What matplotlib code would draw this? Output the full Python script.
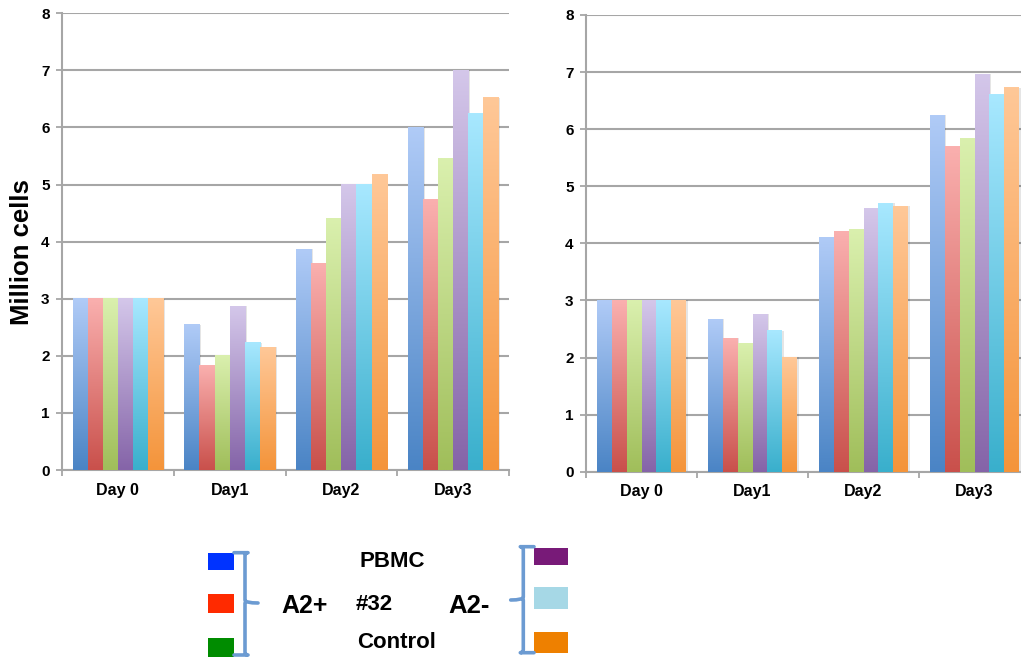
import numpy as np
import matplotlib
matplotlib.use("Agg")
import matplotlib.pyplot as plt
from matplotlib.colors import LinearSegmentedColormap
from matplotlib.path import Path
from matplotlib.patches import PathPatch, Rectangle

plt.rcParams['font.family'] = ['Liberation Sans', 'DejaVu Sans']
plt.rcParams['font.weight'] = 'bold'

# ---- data -------------------------------------------------------------
days = ["Day 0", "Day1", "Day2", "Day3"]

# A2+ panel (left): PBMC, #32, Control, then A2- PBMC, #32, Control
left_a2p_pbmc = [3.0, 2.54, 3.87, 6.0]
left_a2p_32 = [3.0, 1.83, 3.61, 4.73]
left_a2p_ctrl = [3.0, 2.0, 4.41, 5.45]
left_a2m_pbmc = [3.0, 2.87, 5.0, 7.0]
left_a2m_32 = [3.0, 2.23, 5.0, 6.25]
left_a2m_ctrl = [3.0, 2.15, 5.17, 6.52]

right_a2p_pbmc = [3.0, 2.67, 4.11, 6.24]
right_a2p_32 = [3.0, 2.34, 4.21, 5.70]
right_a2p_ctrl = [3.0, 2.25, 4.24, 5.84]
right_a2m_pbmc = [3.0, 2.76, 4.61, 6.96]
right_a2m_32 = [3.0, 2.47, 4.70, 6.61]
right_a2m_ctrl = [3.0, 2.01, 4.65, 6.73]

y_ticks = [0, 1, 2, 3, 4, 5, 6, 7, 8]

# gradient (top, bottom) colours for the six series
grad_colors = [
    ("#B0CBF7", "#4A84C5"),
    ("#FAB0AF", "#C9504B"),
    ("#DAF0AE", "#A0BE5A"),
    ("#D4C7EA", "#8564A8"),
    ("#A8E8FF", "#39AFCC"),
    ("#FFC898", "#F4943A"),
]

legend_left_colors = ["#0033FF", "#FF2A00", "#008C00"]
legend_right_colors = ["#781A78", "#A6D8E6", "#EE8000"]
legend_mid_labels = ["PBMC", "#32", "Control"]

W, H = 1021, 657
fig = plt.figure(figsize=(W / 100, H / 100), dpi=100)
fig.patch.set_facecolor("white")

GRID = "#A6A6A6"


def draw_panel(ax, series):
    n = len(series)
    group_w = 0.81
    bw = group_w / n
    x = np.arange(len(days))
    grad = np.linspace(0, 1, 256).reshape(-1, 1)
    for j, vals in enumerate(series):
        xs = x + (j - (n - 1) / 2) * bw
        # soft drop shadow
        ax.bar(xs + bw * 0.12, vals, bw, bottom=0, color="#000000",
               alpha=0.10, zorder=2, linewidth=0)
        bars = ax.bar(xs, vals, bw, color="none", linewidth=0, zorder=3)
        top_c, bot_c = grad_colors[j]
        cmap = LinearSegmentedColormap.from_list(f"g{j}", [bot_c, top_c])
        for b in bars:
            x0, y0 = b.get_x(), b.get_y()
            ax.imshow(grad, cmap=cmap, aspect="auto", origin="lower",
                      extent=[x0, x0 + b.get_width(), y0, y0 + b.get_height()],
                      zorder=3, interpolation="bilinear")
    ax.set_xlim(-0.5, len(days) - 0.5)
    ax.set_ylim(0, 8)
    ax.set_yticks(y_ticks)
    ax.set_yticklabels([str(t) for t in y_ticks], fontsize=11, fontweight="bold")
    ax.yaxis.grid(True, color=GRID, linewidth=1.5, zorder=1)
    ax.set_axisbelow(True)
    # group boundaries as ticks, day names centred between them
    ax.set_xticks(np.arange(-0.5, len(days) + 0.5, 1.0))
    ax.set_xticklabels([])
    ax.set_xticks(x, minor=True)
    ax.set_xticklabels(days, minor=True, fontsize=11.5, fontweight="bold")
    ax.tick_params(axis="x", which="major", length=4, width=1.3, color=GRID,
                   direction="out")
    ax.tick_params(axis="x", which="minor", length=0, pad=9)
    ax.tick_params(axis="y", length=4, width=1.3, color=GRID, pad=5)
    for s in ("top", "right"):
        ax.spines[s].set_visible(False)
    for s in ("left", "bottom"):
        ax.spines[s].set_color(GRID)
        ax.spines[s].set_linewidth(1.5)
    ax.set_facecolor("none")


ax1 = fig.add_axes([62 / W, 1 - 470 / H, 447 / W, 456.7 / H])
draw_panel(ax1, [left_a2p_pbmc, left_a2p_32, left_a2p_ctrl,
                 left_a2m_pbmc, left_a2m_32, left_a2m_ctrl])

ax2 = fig.add_axes([586 / W, 1 - 471.7 / H, 444 / W, 456.7 / H])
draw_panel(ax2, [right_a2p_pbmc, right_a2p_32, right_a2p_ctrl,
                 right_a2m_pbmc, right_a2m_32, right_a2m_ctrl])

fig.text(22 / W, 1 - 252 / H, "Million cells", rotation=90, ha="center",
         va="center", fontsize=18.5, fontweight="bold")

# ---- legend drawn in pixel space -------------------------------------
lg = fig.add_axes([0, 0, 1, 1])
lg.set_xlim(0, W)
lg.set_ylim(H, 0)
lg.axis("off")
lg.set_zorder(5)

left_boxes = [(552.7, 570), (594, 613.3), (637.7, 657)]
for c, (y0, y1) in zip(legend_left_colors, left_boxes):
    lg.add_patch(Rectangle((208, y0), 26, y1 - y0, color=c, lw=0))
right_boxes = [(548, 564.7), (587, 609), (631.7, 653)]
for c, (y0, y1) in zip(legend_right_colors, right_boxes):
    lg.add_patch(Rectangle((534, y0), 34.3, y1 - y0, color=c, lw=0))

BRACE = "#6C9BD2"


def brace(x_tip, x_line, x_end, y_top, y_mid, y_bot, r=3):
    s = 1 if x_end < x_line else -1
    verts = [
        (x_end, y_top),
        (x_line + s * r, y_top), (x_line, y_top), (x_line, y_top + r),
        (x_line, y_mid - r), (x_line, y_mid), (x_tip, y_mid),
        (x_line, y_mid), (x_line, y_mid + r),
        (x_line, y_bot - r), (x_line, y_bot), (x_line + s * r, y_bot),
        (x_end, y_bot),
    ]
    codes = [Path.MOVETO,
             Path.LINETO, Path.CURVE3, Path.CURVE3,
             Path.LINETO, Path.CURVE3, Path.CURVE3,
             Path.MOVETO, Path.CURVE3,
             Path.LINETO, Path.CURVE3, Path.CURVE3,
             Path.LINETO]
    lg.add_patch(PathPatch(Path(verts, codes), facecolor="none",
                           edgecolor=BRACE, lw=2.6, capstyle="round",
                           joinstyle="round"))


brace(258, 245, 234, 552.7, 603, 655)
brace(510.7, 523.3, 534, 546.7, 600, 652.7)

lg.text(304.7, 606, "A2+", ha="center", va="center", fontsize=18,
        fontweight="bold")
lg.text(469, 606, "A2-", ha="center", va="center", fontsize=18.5,
        fontweight="bold")
mid_pos = [(392, 561.7), (373.7, 605), (396.7, 642.7)]
for lab, (px, py) in zip(legend_mid_labels, mid_pos):
    lg.text(px, py, lab, ha="center", va="center", fontsize=16,
            fontweight="bold")

fig.savefig("out.png", dpi=100)
